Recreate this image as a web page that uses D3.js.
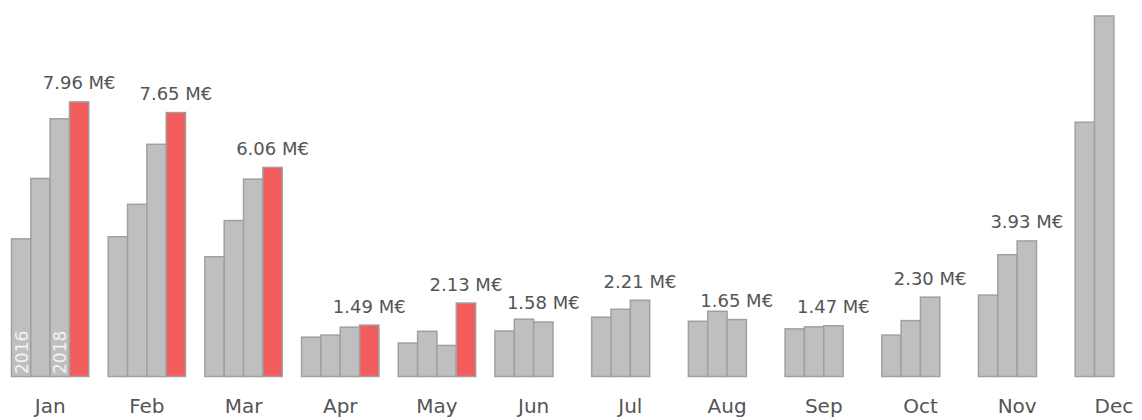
<!DOCTYPE html>
<html>
<head>
<meta charset="utf-8">
<script src="https://cdn.jsdelivr.net/npm/d3@7.9.0/dist/d3.min.js"></script>
<style>
  html, body { margin: 0; padding: 0; background: #fff; }
  svg { display: block; font-family: "DejaVu Sans", sans-serif; }
</style>
</head>
<body>
<div id="chart"></div>
<script>
/* ── data (M€ per month, one array per year) ─────────────────── */
const months = ['Jan','Feb','Mar','Apr','May','Jun','Jul','Aug','Sep','Oct','Nov','Dec'];
const years  = [2016, 2017, 2018, 2019];
const sales2016 = [3.99, 4.05, 3.47, 1.14, 0.97, 1.32, 1.72, 1.60, 1.38, 1.20, 2.36, 7.37];
const sales2017 = [5.74, 4.99, 4.52, 1.20, 1.31, 1.66, 1.95, 1.89, 1.44, 1.62, 3.53, 10.45];
const sales2018 = [7.47, 6.73, 5.72, 1.43, 0.90, 1.58, 2.21, 1.65, 1.47, 2.30, 3.93, null];
const sales2019 = [7.96, 7.65, 6.06, 1.49, 2.13, null, null, null, null, null, null, null];
const yearLabels = ['2016', '2018'];   // written inside the Jan bars

/* ── layout ──────────────────────────────────────────────────── */
const width = 1142, height = 420;
const baseY = 376.5;

const series = [sales2016, sales2017, sales2018, sales2019];
const bars = [];
months.forEach((m, i) => {
  years.forEach((yr, j) => {
    const v = series[j][i];
    if (v != null) bars.push({ month: m, year: yr, value: v });
  });
});

// label = most recent year available for the month (2019, else 2018)
const labels = months.map((m, i) => {
  if (sales2019[i] != null) return { month: m, year: 2019, value: sales2019[i] };
  if (sales2018[i] != null) return { month: m, year: 2018, value: sales2018[i] };
  return null;
}).filter(d => d);

const svg = d3.select('#chart').append('svg')
  .attr('width', width)
  .attr('height', height);

/* scales */
const x = d3.scaleBand()
  .domain(months)
  .range([1.8, 1162.2])
  .paddingInner(0.2)
  .paddingOuter(0.1);

const xYear = d3.scaleBand()
  .domain(years)
  .range([0, x.bandwidth()]);

const y = d3.scaleLinear()
  .domain([0, 10])
  .range([baseY, baseY - 345]);

/* bars */
svg.append('g')
  .selectAll('rect')
  .data(bars)
  .join('rect')
    .attr('x', d => x(d.month) + xYear(d.year))
    .attr('y', d => y(d.value))
    .attr('width', xYear.bandwidth())
    .attr('height', d => y(0) - y(d.value))
    .attr('fill', d => d.year === 2019 ? '#f25c5c' : '#bfbfbf')
    .attr('stroke', '#a0a0a0')
    .attr('stroke-width', 1.5);

/* value labels above the latest bar */
svg.append('g')
  .selectAll('text')
  .data(labels)
  .join('text')
    .attr('x', d => x(d.month) + xYear(d.year) + xYear.bandwidth() / 2)
    .attr('y', d => y(d.value) - 12.5)
    .attr('text-anchor', 'middle')
    .attr('font-size', 18)
    .attr('fill', '#555')
    .text(d => `${d.value.toFixed(2)} M€`);

/* year tags inside the Jan bars */
svg.append('g')
  .selectAll('text')
  .data(yearLabels)
  .join('text')
    .attr('transform', d => {
      const cx = x('Jan') + xYear(+d) + xYear.bandwidth() / 2 + 6.5;
      return `translate(${cx},${baseY - 2.5}) rotate(-90)`;
    })
    .attr('font-size', 17)
    .attr('fill', '#f2f2f2')
    .text(d => d);

/* month axis */
const xAxis = svg.append('g')
  .attr('transform', `translate(0,${baseY})`)
  .call(d3.axisBottom(x).tickSize(0).tickPadding(0));
xAxis.select('.domain').remove();
xAxis.selectAll('text')
  .attr('dy', null)
  .attr('y', 36.5)
  .attr('font-size', 20)
  .attr('font-family', '"DejaVu Sans", sans-serif')
  .attr('fill', '#555');
</script>
</body>
</html>
